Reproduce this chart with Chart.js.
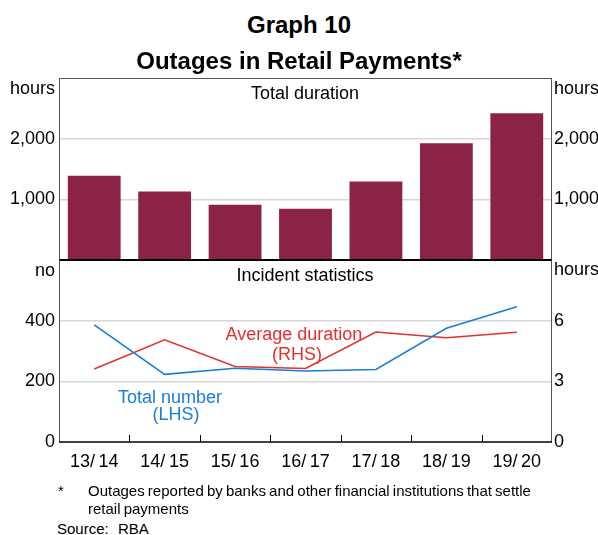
<!DOCTYPE html>
<html>
<head>
<meta charset="utf-8">
<script src="https://cdn.jsdelivr.net/npm/chart.js@4.4.0/dist/chart.umd.min.js"></script>
<style>
    html, body { margin: 0; padding: 0; background: #fff; }
    #wrap { position: relative; width: 598px; height: 535px; overflow: hidden; font-family: 'Liberation Sans', Arial, sans-serif; color: #000; }
    #wrap canvas { position: absolute; left: 0; }
    .t { position: absolute; white-space: nowrap; line-height: 1; font-size: 18px; }
    .c { transform: translate(-50%, -50%); }
    .l { transform: translate(0, -50%); }
    .r { transform: translate(-100%, -50%); }
    .red { color: #e2312d; }
    .blue { color: #1a7dd6; }
    .foot { font-size: 15px; word-spacing: -1px; }
</style>
</head>
<body>
<div id="wrap">
    <canvas id="topChart" width="598" height="192" style="top:70px"></canvas>
    <canvas id="bottomChart" width="598" height="222" style="top:258px"></canvas>

    <div class="t c" style="left:299px; top:25px; font-size:24px; font-weight:bold;">Graph 10</div>
    <div class="t c" style="left:299px; top:61px; font-size:24px; font-weight:bold;">Outages in Retail Payments*</div>

    <div class="t r" style="left:55px; top:88px;">hours</div>
    <div class="t l" style="left:554px; top:88px;">hours</div>
    <div class="t r" style="left:55px; top:270px;">no</div>
    <div class="t l" style="left:554px; top:269px;">hours</div>

    <div class="t c" style="left:305px; top:93px;">Total duration</div>
    <div class="t c" style="left:305px; top:275px;">Incident statistics</div>
    <div class="t c red" style="left:294px; top:334px;">Average duration</div>
    <div class="t c red" style="left:297px; top:354px;">(RHS)</div>
    <div class="t c blue" style="left:170px; top:397px;">Total number</div>
    <div class="t c blue" style="left:176px; top:414px;">(LHS)</div>

    <div class="t l foot" style="left:58px; top:490px;">*</div>
    <div class="t l foot" style="left:88px; top:490px;">Outages reported by banks and other financial institutions that settle</div>
    <div class="t l foot" style="left:88px; top:508px;">retail payments</div>
    <div class="t l foot" style="left:57px; top:528px;">Source:</div>
    <div class="t l foot" style="left:118px; top:528px;">RBA</div>
</div>

<script>
// Data
const years = ['13/\u200914', '14/\u200915', '15/\u200916', '16/\u200917', '17/\u200918', '18/\u200919', '19/\u200920'];
const totalDuration = [1390, 1130, 910, 845, 1295, 1925, 2420];   // hours
const totalNumber = [386, 223, 243, 234, 239, 375, 446];          // no (LHS)
const avgDuration = [3.61, 5.05, 3.73, 3.64, 5.44, 5.16, 5.43];   // hours (RHS)

const topTicks = [1000, 2000];
const bottomLeftTicks = [0, 200, 400];
const bottomRightTicks = [0, 3, 6];

const BAR = '#8b2346';
const BLUE = '#1a7dd6';
const RED = '#e2312d';
const GRID = '#d6d6d6';

Chart.defaults.font.family = "'Liberation Sans', Arial, sans-serif";
Chart.defaults.font.size = 18;
Chart.defaults.color = '#000';

// fixed axis widths so both panels line up (plot area 59..552)
function fixWidth(w) {
    return scale => {
        scale.width = w;
        scale.paddingTop = 0;
        scale.paddingBottom = 0;
    };
}

// box round the plot area
const framePlugin = {
    id: 'frame',
    afterDraw(chart, args, opts) {
        const { ctx, chartArea: a } = chart;
        ctx.save();
        ctx.strokeStyle = '#555';
        ctx.lineWidth = 1;
        ctx.beginPath();
        ctx.moveTo(a.left + 0.5, a.top);
        ctx.lineTo(a.left + 0.5, a.bottom);
        ctx.moveTo(a.right - 0.5, a.top);
        ctx.lineTo(a.right - 0.5, a.bottom);
        if (opts.top) {
            ctx.moveTo(a.left, a.top + 0.5);
            ctx.lineTo(a.right, a.top + 0.5);
        }
        ctx.stroke();

        ctx.strokeStyle = '#000';
        ctx.lineWidth = opts.bottomWidth || 1.5;
        ctx.beginPath();
        ctx.moveTo(a.left, a.bottom);
        ctx.lineTo(a.right, a.bottom);
        ctx.stroke();

        // small tick marks between categories, pointing up into the plot
        if (opts.ticks) {
            const x = chart.scales.x;
            ctx.lineWidth = 1;
            ctx.beginPath();
            for (let i = 1; i < years.length; i++) {
                const px = Math.round(x.getPixelForValue(i - 0.5)) + 0.5;
                ctx.moveTo(px, a.bottom);
                ctx.lineTo(px, a.bottom - 7);
            }
            ctx.stroke();
        }
        ctx.restore();
    }
};

function gridColor(list) {
    return ctx => (ctx.tick && list.includes(ctx.tick.value) && ctx.tick.value !== 0) ? GRID : 'rgba(0,0,0,0)';
}

function tickLabel(list) {
    return v => list.includes(v) ? v.toLocaleString('en-US') : '';
}

// Top panel: Total duration
new Chart(document.getElementById('topChart'), {
    type: 'bar',
    data: {
        labels: years,
        datasets: [{
            data: totalDuration,
            backgroundColor: BAR,
            barPercentage: 0.75,
            categoryPercentage: 1.0
        }]
    },
    options: {
        responsive: false,
        animation: false,
        layout: { padding: { top: 8, bottom: 2, left: 0, right: 0 } },
        plugins: {
            legend: { display: false },
            tooltip: { enabled: false },
            frame: { top: true, bottomWidth: 2 }
        },
        scales: {
            x: { display: false },
            y: {
                position: 'left',
                min: 0, max: 3000,
                afterFit: fixWidth(59),
                border: { display: false },
                grid: { color: gridColor(topTicks), lineWidth: 1.5, drawTicks: false },
                ticks: { stepSize: 1000, padding: 4, callback: tickLabel(topTicks) }
            },
            y2: {
                position: 'right',
                min: 0, max: 3000,
                afterFit: fixWidth(46),
                border: { display: false },
                grid: { display: false, drawTicks: false },
                ticks: { stepSize: 1000, padding: 2, callback: tickLabel(topTicks) }
            }
        }
    },
    plugins: [framePlugin]
});

// Bottom panel: Incident statistics
new Chart(document.getElementById('bottomChart'), {
    type: 'line',
    data: {
        labels: years,
        datasets: [
            {
                data: totalNumber,
                yAxisID: 'y',
                borderColor: BLUE,
                borderWidth: 1.5,
                pointRadius: 0,
                tension: 0
            },
            {
                data: avgDuration,
                yAxisID: 'y2',
                borderColor: RED,
                borderWidth: 1.5,
                pointRadius: 0,
                tension: 0
            }
        ]
    },
    options: {
        responsive: false,
        animation: false,
        layout: { padding: { top: 2, bottom: 0, left: 0, right: 0 } },
        plugins: {
            legend: { display: false },
            tooltip: { enabled: false },
            frame: { top: false, bottomWidth: 1.5, ticks: true }
        },
        scales: {
            x: {
                offset: true,
                afterFit: scale => {
                    scale.height = 38;
                    scale.paddingLeft = 0;
                    scale.paddingRight = 0;
                },
                border: { display: false },
                grid: { display: false, drawTicks: false },
                ticks: { padding: 9, maxRotation: 0, autoSkip: false }
            },
            y: {
                position: 'left',
                min: 0, max: 600,
                afterFit: fixWidth(59),
                border: { display: false },
                grid: { color: gridColor(bottomLeftTicks), lineWidth: 1.5, drawTicks: false },
                ticks: { stepSize: 200, padding: 4, callback: tickLabel(bottomLeftTicks) }
            },
            y2: {
                position: 'right',
                min: 0, max: 9,
                afterFit: fixWidth(46),
                border: { display: false },
                grid: { display: false, drawTicks: false },
                ticks: { stepSize: 3, padding: 2, callback: tickLabel(bottomRightTicks) }
            }
        }
    },
    plugins: [framePlugin]
});
</script>
</body>
</html>
